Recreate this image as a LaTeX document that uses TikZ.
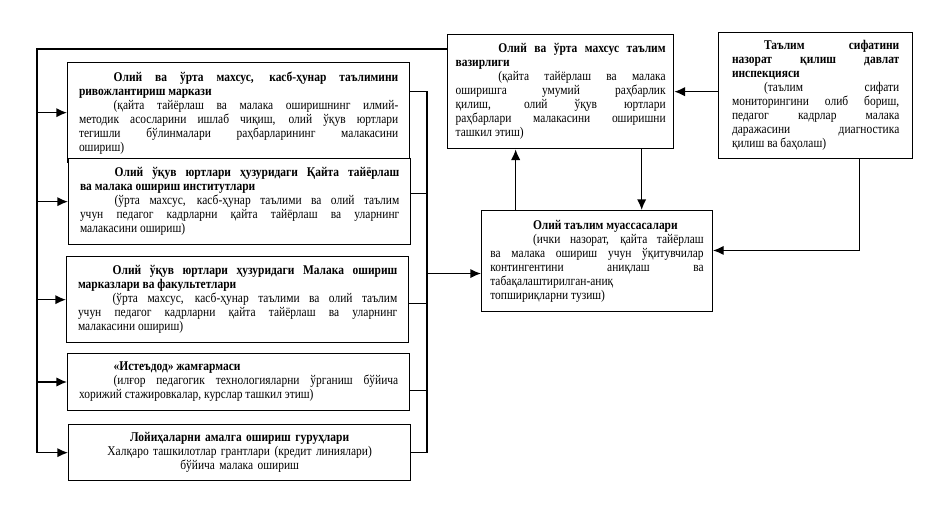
\documentclass[tikz,border=0pt]{standalone}
\usepackage{fontspec}
\setmainfont{Liberation Serif}[FakeStretch=0.86]
\usetikzlibrary{arrows.meta,calc}
\newcommand\ind[1][26pt]{\hspace*{#1}}
\begin{document}
\begin{tikzpicture}[x=0.75pt,y=-0.75pt,
	>={Latex[length=8pt,width=7pt]},line width=1pt,
	box/.style={draw,fill=white,anchor=north west,inner xsep=8.5pt,inner ysep=0pt,
		align=justify,font=\fontsize{10}{10.5}\selectfont},
	lbox/.style={box,text width=239.5pt}]
\useasboundingbox (0,0) rectangle (934,528);
% left column
\node[lbox,minimum height=75pt] (cent) at (67,62) {\ind\textbf{Олий ва ўрта махсус, касб-ҳунар таълимини\linebreak ривожлантириш маркази}\par
	\ind(қайта тайёрлаш ва малака оширишнинг илмий-\linebreak методик асосларини ишлаб чиқиш, олий ўқув юртлари\linebreak тегишли бўлинмалари раҳбарларининг малакасини\linebreak ошириш)};
\node[lbox,minimum height=64.5pt] (ipk) at (68,158) {\ind\textbf{Олий ўқув юртлари ҳузуридаги Қайта тайёрлаш\linebreak ва малака ошириш институтлари}\par
	\ind(ўрта махсус, касб-ҳунар таълими ва олий таълим\linebreak учун педагог кадрларни қайта тайёрлаш ва уларнинг\linebreak малакасини ошириш)};
\node[lbox,minimum height=64.5pt] (mom) at (66,256) {\ind\textbf{Олий ўқув юртлари ҳузуридаги Малака ошириш\linebreak марказлари ва факультетлари}\par
	\ind(ўрта махсус, касб-ҳунар таълими ва олий таълим\linebreak учун педагог кадрларни қайта тайёрлаш ва уларнинг\linebreak малакасини ошириш)};
\node[lbox,minimum height=42.5pt] (fund) at (67,353) {\ind\textbf{«Истеъдод» жамғармаси}\par
	\ind(илғор педагогик технологияларни ўрганиш бўйича\linebreak хорижий стажировкалар, курслар ташкил этиш)};
\node[lbox,align=center,minimum height=42pt] (proj) at (68,424) {\textbf{Лойиҳаларни амалга ошириш гуруҳлари}\\
	Халқаро ташкилотлар грантлари (кредит линиялари)\\ бўйича малака ошириш};
% right part
\node[box,inner xsep=6pt,text width=157.5pt,minimum height=85.5pt] (min) at (447,34) {\ind[32pt]\textbf{Олий ва ўрта махсус таълим\linebreak вазирлиги}\par
	\ind[32pt](қайта тайёрлаш ва малака\linebreak оширишга умумий раҳбарлик\linebreak қилиш, олий ўқув юртлари\linebreak раҳбарлари малакасини оширишни\linebreak ташкил этиш)};
\node[box,inner xsep=10pt,text width=125.5pt,minimum height=94.5pt] (insp) at (718,32) {\ind[24pt]\textbf{Таълим сифатини\linebreak назорат қилиш давлат\linebreak инспекцияси}\par
	\ind[24pt](таълим сифати\linebreak мониторингини олиб бориш,\linebreak педагог кадрлар малака\linebreak даражасини диагностика\linebreak қилиш ва баҳолаш)};
\node[box,inner xsep=6.5pt,text width=160pt,minimum height=75.5pt] (inst) at (481,210) {\ind[32pt]\textbf{Олий таълим муассасалари}\par
	\ind[32pt](ички назорат, қайта тайёрлаш\linebreak ва малака ошириш учун ўқитувчилар\linebreak контингентини аниқлаш ва\linebreak табақалаштирилган-аниқ\newline топшириқларни тузиш)};
% connectors
\coordinate (lbus) at (37,49);
\draw (min.west |- lbus) -- (lbus) -- (lbus |- proj.west);
\foreach \n in {cent,ipk,mom,fund,proj}
	\draw[->] (lbus |- \n.west) -- (\n.west);
\coordinate (rbus) at (427,91);
\foreach \n/\s in {cent/15.75,ipk/6,mom/-3,fund/-6.4,proj/0}
	\draw ([yshift=\s pt]\n.east) coordinate (tmp) -- (tmp -| rbus);
\draw (rbus) -- (rbus |- proj.east);
\path ([yshift=-9.4pt]inst.west) coordinate (instin);
\draw[->] (instin -| rbus) -- (instin);
\draw[->] (insp.west |- min.east) -- (min.east);
\path ([xshift=60.75pt]min.south) coordinate (mdown);
\draw[->] (mdown) -- (mdown |- inst.north);
\path ([xshift=-61pt]inst.north) coordinate (iup);
\draw[->] (iup) -- (iup |- min.south);
\path ([xshift=33pt]insp.south) coordinate (qdown);
\path ([yshift=7.9pt]inst.east) coordinate (qin);
\draw[->] (qdown) |- (qin);
\end{tikzpicture}
\end{document}
